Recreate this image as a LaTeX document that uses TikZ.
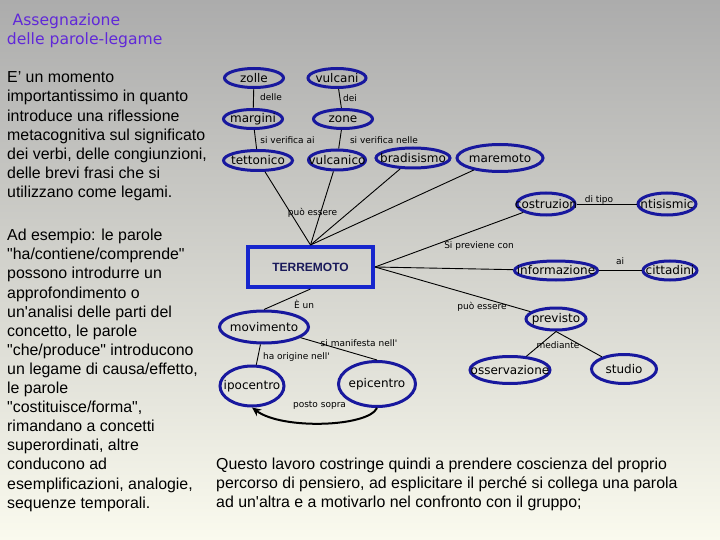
\documentclass[tikz,border=0pt]{standalone}
\usepackage{fontspec}
\newfontfamily\lsans{Liberation Sans}
\newfontfamily\dsans{DejaVu Sans}
\usetikzlibrary{shapes.geometric,arrows.meta}
\definecolor{bgtop}{RGB}{172,172,172}
\definecolor{bgbot}{RGB}{250,250,238}
\definecolor{ell}{RGB}{24,24,158}
\definecolor{rectb}{RGB}{22,38,205}
\definecolor{titlec}{RGB}{96,40,216}
\definecolor{tnavy}{RGB}{25,25,90}
\begin{document}
\begin{tikzpicture}[x=1pt,y=-1pt,
  conc/.style={ellipse,draw=ell,line width=3pt,inner sep=0pt,
    label={[inner sep=0pt,font=\dsans\fontsize{12}{12}\selectfont]center:#1}},
  lbl/.style={inner sep=0pt,font=\dsans\fontsize{9}{10}\selectfont},
  link/.style={draw=black,line width=0.9pt},
  body/.style={inner sep=0pt,anchor=north west,align=left,font=\lsans\fontsize{15.9}{19.1}\selectfont},
  titletext/.style={inner sep=0pt,anchor=base west,text=titlec,font=\dsans\fontsize{15.6}{18}\selectfont}]
\shade[top color=bgtop,bottom color=bgbot] (0,0) rectangle (720,540);
\useasboundingbox (0,0) rectangle (720,540);

% title
\node[titletext] (t1) at (12.5,26) {Assegnazione};
\node[titletext] (t2) at (6.7,44.3) {delle parole-legame};

% left text
\node[body] (p1) at (7,71.7) {E’ un momento\\importantissimo in quanto\\introduce una riflessione\\metacognitiva sul significato\\dei verbi, delle congiunzioni,\\delle brevi frasi che si\\utilizzano come legami.};
\node[body] (p2) at (7,229) {Ad esempio: le parole\\"ha/contiene/comprende"\\possono introdurre un\\approfondimento o\\un'analisi delle parti del\\concetto, le parole\\"che/produce" introducono\\un legame di causa/effetto,\\le parole\\"costituisce/forma",\\rimandano a concetti\\superordinati, altre\\conducono ad\\esemplificazioni, analogie,\\sequenze temporali.};
\node[body] (p3) at (216,457.8) {Questo lavoro costringe quindi a prendere coscienza del proprio\\percorso di pensiero, ad esplicitare il perché si collega una parola\\ad un'altra e a motivarlo nel confronto con il gruppo;};

% concept nodes
\node[conc=zolle,minimum width=59pt,minimum height=19pt] (zol) at (254,78) {};
\node[conc=vulcani,minimum width=58pt,minimum height=19pt] (vul) at (337,78) {};
\node[conc=margini,minimum width=59pt,minimum height=19pt] (mar) at (253,119) {};
\node[conc=zone,minimum width=59pt,minimum height=19pt] (zon) at (343,119) {};
\node[conc=tettonico,minimum width=69pt,minimum height=20pt] (tet) at (258,160.5) {};
\node[conc=vulcanico,minimum width=57pt,minimum height=20pt] (vco) at (337,160) {};
\node[conc=bradisismo,minimum width=74pt,minimum height=20pt] (bra) at (413,158) {};
\node[conc=maremoto,minimum width=86pt,minimum height=27pt] (mrm) at (500,158) {};
\node[conc=costruzion,minimum width=58pt,minimum height=22pt] (cos) at (546,204) {};
\node[conc=ntisismic,minimum width=58pt,minimum height=22pt] (ant) at (667,204) {};
\node[conc=informazione,minimum width=83pt,minimum height=19pt] (inf) at (556,270.5) {};
\node[conc=cittadini,minimum width=54pt,minimum height=19pt] (cit) at (670,270.5) {};
\node[conc=previsto,minimum width=60pt,minimum height=22pt] (pre) at (556,319) {};
\node[conc=osservazione,minimum width=80pt,minimum height=27pt] (oss) at (510,370) {};
\node[conc=studio,minimum width=65pt,minimum height=29pt] (stu) at (624,369) {};
\node[conc=movimento,minimum width=89pt,minimum height=32pt] (mov) at (264,327) {};
\node[conc=ipocentro,minimum width=64pt,minimum height=40pt] (ipo) at (252,386) {};
\node[conc=epicentro,minimum width=77pt,minimum height=45pt] (epi) at (377,384) {};

\node[draw=rectb,line width=4pt,minimum width=125pt,minimum height=40pt,inner sep=0pt,
  text=tnavy,font=\lsans\bfseries\fontsize{12}{12}\selectfont] (T) at (310.5,267) {TERREMOTO};

% connectors
\draw[link] (zol) -- (mar);
\draw[link] (vul) -- (zon);
\draw[link] (mar) -- (tet);
\draw[link] (zon) -- (vco);
\draw[link] (T.north) -- (tet);
\draw[link] (T.north) -- (vco);
\draw[link] (T.north) -- (bra);
\draw[link] (T.north) -- (mrm);
\draw[link] (T.east) -- (cos);
\draw[link] (T.east) -- (inf);
\draw[link] (T.east) -- (pre);
\draw[link] (cos) -- (ant);
\draw[link] (inf) -- (cit);
\draw[link] (pre.south) -- (oss);
\draw[link] (pre.south) -- (stu);
\draw[link] (T.south) -- (mov.north);
\draw[link] (mov) -- (ipo);
\draw[link] (mov) -- (epi.north);
\draw[line width=2pt,-{Stealth[length=9pt,width=8pt]}] (epi.south) .. controls (368,427) and (282,430) .. (ipo.south);

% connector labels
\node[lbl] (l1) at (271,97.5) {delle};
\node[lbl] (l2) at (350,98) {dei};
\node[lbl] (l3) at (287.5,140.5) {si verifica ai};
\node[lbl] (l4) at (384,140.5) {si verifica nelle};
\node[lbl] (l5) at (312.5,212.5) {può essere};
\node[lbl] (l6) at (479,246.5) {Si previene con};
\node[lbl] (l7) at (599,200) {di tipo};
\node[lbl] (l8) at (620,261.5) {ai};
\node[lbl] (l9) at (482,307) {può essere};
\node[lbl] (l10) at (558,345.5) {mediante};
\node[lbl] (l11) at (304,304.5) {È un};
\node[lbl] (l12) at (296.5,357.5) {ha origine nell'};
\node[lbl] (l13) at (359,343) {si manifesta nell'};
\node[lbl] (l14) at (319.5,405) {posto sopra};
\end{tikzpicture}
\end{document}
